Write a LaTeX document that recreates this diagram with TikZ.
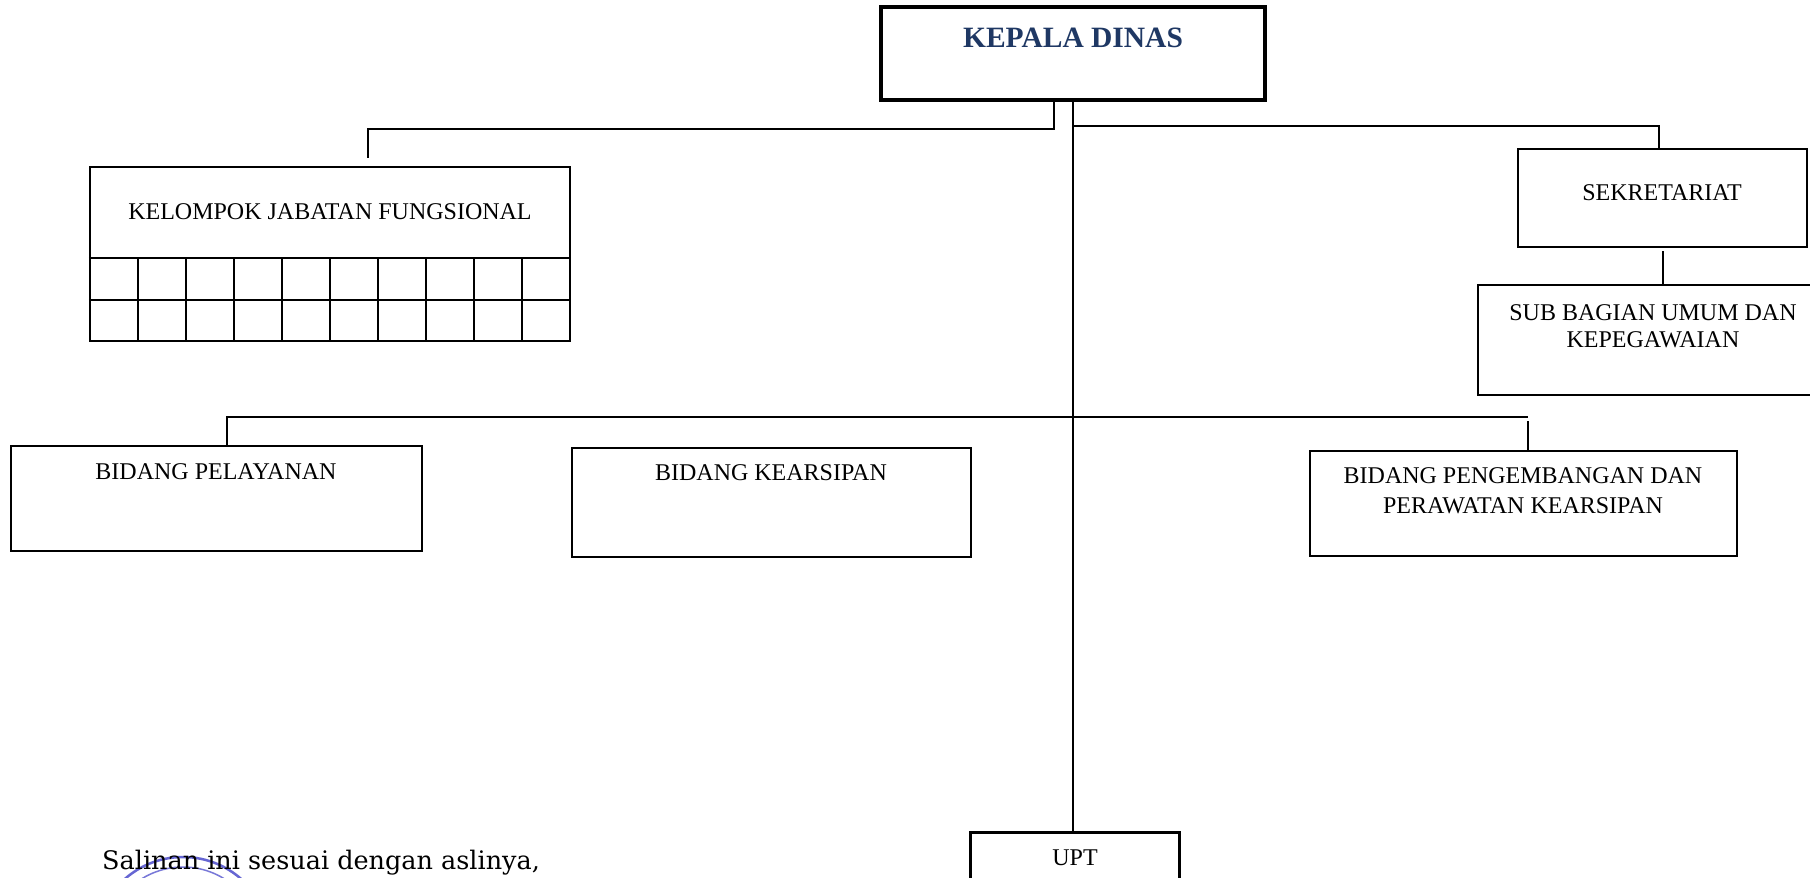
\documentclass[tikz,border=0pt]{standalone}
\usepackage{fontspec}
\setmainfont{Liberation Serif}
\newfontfamily\stampfont{DejaVu Serif}
\definecolor{navy}{HTML}{1F3864}
\definecolor{stampblue}{HTML}{4040C8}
\begin{document}
\begin{tikzpicture}[x=1pt,y=-1pt,
  box/.style={draw=black,line width=2.2pt,rectangle,inner sep=0pt},
  headbox/.style={draw=black,line width=4pt,rectangle,inner sep=0pt},
  lbl/.style={inner sep=0pt,anchor=base,font=\fontsize{24}{28}\selectfont},
  link/.style={draw=black,line width=1.8pt},
  grid/.style={draw=black,line width=1.8pt}]
\useasboundingbox (0,0) rectangle (1810,878);
\fill[white] (0,0) rectangle (1810,878);

% boxes
\node[headbox,minimum width=384pt,minimum height=93pt] (kd) at (1073,53.5) {};
\node[inner sep=0pt,anchor=base,font=\fontsize{29.5}{32}\selectfont\bfseries,text=navy] (kdt) at (1073,47) {KEPALA DINAS};

\node[box,minimum width=480pt,minimum height=174pt] (kjf) at (330,254) {};
\node[lbl] (kjft) at (330,219) {KELOMPOK JABATAN FUNGSIONAL};

\node[box,minimum width=289pt,minimum height=98pt] (sek) at (1662.5,198) {};
\node[lbl] (sekt) at (1662,200) {SEKRETARIAT};

\node[box,minimum width=340pt,minimum height=110pt] (sub) at (1648,340) {};
\node[lbl] (subt1) at (1653,320) {SUB BAGIAN UMUM DAN};
\node[lbl] (subt2) at (1653,347) {KEPEGAWAIAN};

\node[box,minimum width=411pt,minimum height=105pt] (bp) at (216.5,498.5) {};
\node[lbl] (bpt) at (216,479) {BIDANG PELAYANAN};

\node[box,minimum width=399pt,minimum height=109pt] (bk) at (771.5,502.5) {};
\node[lbl] (bkt) at (771,480) {BIDANG KEARSIPAN};

\node[box,minimum width=427pt,minimum height=105pt] (bpp) at (1523.5,503.5) {};
\node[lbl] (bppt1) at (1523,483) {BIDANG PENGEMBANGAN DAN};
\node[lbl] (bppt2) at (1523,513) {PERAWATAN KEARSIPAN};

\node[box,line width=3pt,minimum width=209pt,minimum height=90pt] (upt) at (1074.5,877) {};
\node[lbl] (uptt) at (1075,865) {UPT};

% grid rows of kelompok jabatan fungsional
\draw[grid] (kjf.west |- 0,258) -- (kjf.east |- 0,258);
\draw[grid] (kjf.west |- 0,300) -- (kjf.east |- 0,300);
\foreach \i in {1,...,9}{
  \draw[grid] (90+48*\i,258) -- (90+48*\i,341);
}

% connectors
\coordinate (a1) at (1054,129);
\coordinate (a2) at (368,129);
\coordinate (a3) at (368,158);
\draw[link] (kd.south -| a1) -- (a1) -- (a2) -- (a3);

\coordinate (m0) at (1073,100);
\draw[link] (kd.south -| m0) -- (upt.north -| m0);

\coordinate (s1) at (1073,126);
\coordinate (s2) at (1659,126);
\draw[link] (s1) -- (s2) -- (sek.north -| s2);

\coordinate (s3) at (1663,251);
\draw[link] (s3) -- (sub.north -| s3);

\coordinate (h1) at (227,417);
\coordinate (h2) at (1528,417);
\coordinate (h3) at (1528,421);
\draw[link] (bp.north -| h1) -- (h1) -- (h2);
\draw[link] (h3) -- (bpp.north -| h3);

% stamp remnant
\draw[stampblue,line width=2.5pt,opacity=0.8] (183,945) circle (88);
\draw[stampblue,line width=1.5pt,opacity=0.7] (183,945) circle (78);

\node[inner sep=0pt,anchor=base west,font=\stampfont\fontsize{25.5}{30}\selectfont] (sal) at (102,869) {Salinan ini sesuai dengan aslinya,};
\end{tikzpicture}
\end{document}
